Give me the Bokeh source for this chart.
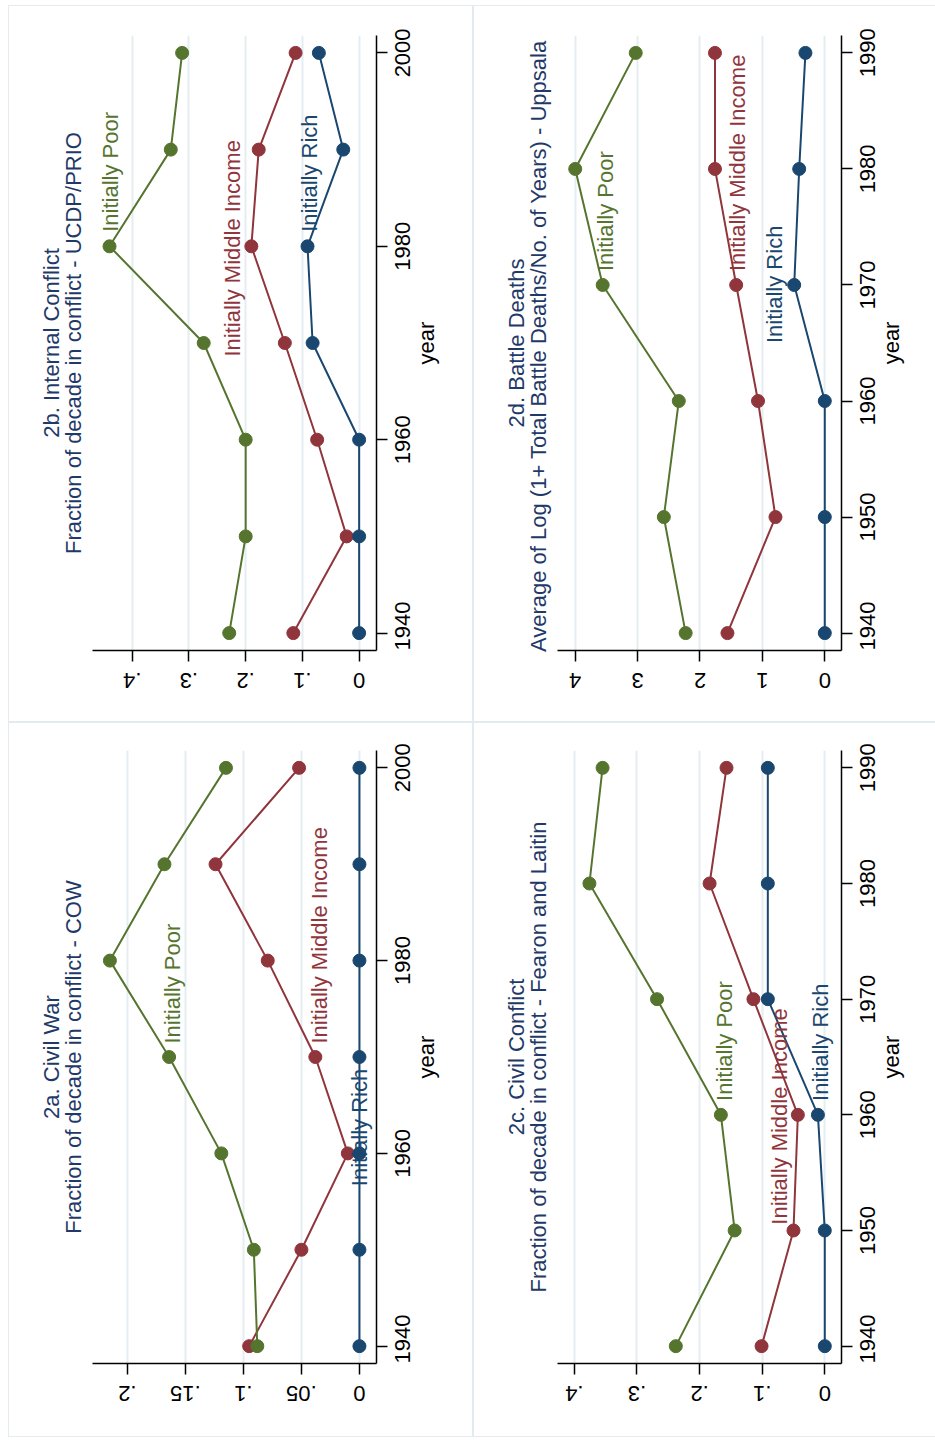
import json
import math

from bokeh.core.properties import value
from bokeh.embed import file_html
from bokeh.layouts import column, row
from bokeh.models import (ColumnDataSource, CustomJSTickFormatter, FixedTicker,
                          LinearAxis, Range1d, Spacer, Title)
from bokeh.plotting import figure
from bokeh.resources import INLINE

# ---------------------------------------------------------------- data
years_2000 = [1940, 1950, 1960, 1970, 1980, 1990, 2000]
years_1990 = [1940, 1950, 1960, 1970, 1980, 1990]
group_names = ["Initially Poor", "Initially Middle Income", "Initially Rich"]

# 2a. Civil War - COW
cow_poor = [0.088, 0.091, 0.119, 0.164, 0.215, 0.168, 0.115]
cow_middle = [0.095, 0.050, 0.010, 0.038, 0.079, 0.124, 0.052]
cow_rich = [0.0, 0.0, 0.0, 0.0, 0.0, 0.0, 0.0]

# 2b. Internal Conflict - UCDP/PRIO
prio_poor = [0.229, 0.200, 0.200, 0.274, 0.440, 0.332, 0.312]
prio_middle = [0.116, 0.022, 0.074, 0.131, 0.190, 0.177, 0.112]
prio_rich = [0.0, 0.0, 0.0, 0.082, 0.091, 0.028, 0.071]

# 2c. Civil Conflict - Fearon and Laitin
fl_poor = [0.238, 0.144, 0.166, 0.268, 0.376, 0.355]
fl_middle = [0.101, 0.050, 0.043, 0.114, 0.184, 0.157]
fl_rich = [0.0, 0.0, 0.011, 0.091, 0.091, 0.091]

# 2d. Battle Deaths - Uppsala
bd_poor = [2.23, 2.58, 2.34, 3.56, 4.00, 3.03]
bd_middle = [1.56, 0.79, 1.07, 1.42, 1.76, 1.76]
bd_rich = [0.0, 0.0, 0.0, 0.49, 0.41, 0.31]

# value-axis ticks and their labels
ticks_05 = [0, 0.05, 0.1, 0.15, 0.2]
labels_05 = ["0", ".05", ".1", ".15", ".2"]
ticks_1 = [0, 0.1, 0.2, 0.3, 0.4]
labels_1 = ["0", ".1", ".2", ".3", ".4"]
ticks_int = [0, 1, 2, 3, 4]
labels_int = ["0", "1", "2", "3", "4"]
# year-axis ticks
year_ticks_20 = [1940, 1960, 1980, 2000]
year_ticks_10 = [1940, 1950, 1960, 1970, 1980, 1990]
year_title = "year"

# ---------------------------------------------------------------- style
FONT = "Liberation Sans"
FS_PX = 22
FS = f"{FS_PX}px"
TITLE_COLOR = "#1f3a68"
GRID_COLOR = "#e4edf0"
EDGE = "#e3ebee"
COLORS = ["#55752f", "#90353b", "#1a476f"]   # poor, middle, rich
DRAW_ORDER = [1, 0, 2]
FRAME_W = 284
FRAME_LEFT = 84

SHADOW_LEFT = f"inset 0 0 0 1px {EDGE}"
SHADOW_RIGHT = f"inset 1px 0 0 0 {EDGE}, inset 0 1px 0 0 {EDGE}, inset 0 -1px 0 0 {EDGE}"

# Liberation Sans advance widths (em) of the glyphs used in axis text
GLYPH_EM = {".": 0.278, "0": 0.556, "1": 0.556, "2": 0.556, "3": 0.556,
            "4": 0.556, "5": 0.556, "6": 0.556, "7": 0.556, "8": 0.556,
            "9": 0.556, "y": 0.5, "e": 0.556, "a": 0.556, "r": 0.333}


def half_width_px(s):
    return 0.5 * sum(GLYPH_EM[c] for c in s) * FS_PX


def lookup_formatter(positions, texts):
    # each label sits on its own tick; pick the text of the nearest one
    return CustomJSTickFormatter(code=f"""
const pos = {json.dumps(positions)};
const txt = {json.dumps(texts)};
let best = 0;
for (let i = 0; i < pos.length; i++) {{
  if (Math.abs(pos[i] - tick) < Math.abs(pos[best] - tick)) best = i;
}}
return txt[best];
""")


def rule_axis(ax, ticks):
    """Axis line and outward ticks, without labels."""
    ax.ticker = FixedTicker(ticks=ticks)
    ax.formatter = CustomJSTickFormatter(code="return '';")
    ax.major_label_text_font_size = "0px"
    ax.major_label_standoff = 0
    ax.major_tick_out = 11
    ax.major_tick_in = 0
    ax.minor_tick_out = 0
    ax.minor_tick_in = 0
    ax.axis_line_width = 1.5
    ax.major_tick_line_width = 1.5
    ax.axis_line_color = "black"
    ax.major_tick_line_color = "black"


def text_axis(positions, texts, angle, standoff):
    """Label-only axis: rotated texts anchored on the given positions."""
    return LinearAxis(ticker=FixedTicker(ticks=positions),
                      formatter=lookup_formatter(positions, texts),
                      major_label_orientation=angle,
                      major_label_standoff=standoff,
                      major_label_text_font=FONT,
                      major_label_text_font_size=FS,
                      major_label_text_color="black",
                      major_tick_out=0, major_tick_in=0,
                      minor_tick_out=0, minor_tick_in=0,
                      axis_line_color=None, major_tick_line_color=None,
                      minor_tick_line_color=None)


def make_panel(head, sub, years, series, label_xy, x_lim, x_ticks, x_labels,
               y_lim, y_ticks, width, height, top, frame_h, shadow):
    p = figure(width=width, height=height,
               x_range=Range1d(*x_lim), y_range=Range1d(*y_lim),
               x_axis_location="below", y_axis_location="right",
               output_backend="svg", toolbar_location=None,
               min_border_left=FRAME_LEFT,
               min_border_right=width - FRAME_LEFT - FRAME_W,
               min_border_top=top, min_border_bottom=height - top - frame_h,
               border_fill_color=None, background_fill_color="white",
               outline_line_color=None, styles={"box-shadow": shadow})

    x_left, x_right = x_lim
    y_bottom, y_top = y_lim
    px_per_x = FRAME_W / (x_left - x_right)
    px_per_y = frame_h / (y_top - y_bottom)

    # value axis along the bottom, grid lines at its ticks
    rule_axis(p.xaxis[0], x_ticks)
    p.xgrid.grid_line_color = GRID_COLOR
    p.xgrid.grid_line_width = 2
    p.ygrid.visible = False

    # year axis along the right side
    rule_axis(p.yaxis[0], y_ticks)

    # upside-down value labels, centred under the ticks
    x_pos = [t + half_width_px(s) / px_per_x for t, s in zip(x_ticks, x_labels)]
    p.add_layout(text_axis(x_pos, x_labels, math.pi, 19), "below")

    # year labels reading upwards, centred on the ticks (kept inside the axis span)
    y_texts = [str(t) for t in y_ticks]
    y_pos = [max(t - half_width_px(s) / px_per_y, y_bottom + 0.01)
             for t, s in zip(y_ticks, y_texts)]
    p.add_layout(text_axis(y_pos, y_texts, math.pi / 2, 15), "right")

    # axis title "year", centred on the plot height
    y_mid = 0.5 * (y_bottom + y_top) - half_width_px(year_title) / px_per_y
    p.add_layout(text_axis([y_mid], [year_title], math.pi / 2, 6), "right")

    for i in DRAW_ORDER:
        src = ColumnDataSource(dict(x=series[i], y=years))
        p.line("x", "y", source=src, line_color=COLORS[i], line_width=2)
        p.scatter("x", "y", source=src, marker="circle", size=13,
                  fill_color=COLORS[i], line_color=COLORS[i])

    for i, name in enumerate(group_names):
        lx, ly = label_xy[i]
        p.text(x=[lx], y=[ly], text=[name], angle=math.pi / 2,
               text_align="left", text_baseline="middle",
               text_color=COLORS[i], text_font=value(FONT),
               text_font_size=value(FS))

    # two-line heading, read upwards, centred on the plot area
    p.add_layout(Title(text=sub, align="center", text_font=FONT,
                       text_font_size=FS, text_font_style="normal",
                       text_color=TITLE_COLOR, standoff=14), "left")
    p.add_layout(Title(text=head, align="center", text_font=FONT,
                       text_font_size=FS, text_font_style="normal",
                       text_color=TITLE_COLOR, standoff=-24), "left")
    return p


p2b = make_panel("2b. Internal Conflict",
                 "Fraction of decade in conflict - UCDP/PRIO",
                 years_2000, [prio_poor, prio_middle, prio_rich],
                 [(0.438, 1981.5), (0.2235, 1968.6), (0.088, 1981.5)],
                 (0.47, -0.0306), ticks_1, labels_1,
                 (1938.2, 2001.8), year_ticks_20,
                 465, 717, 30, 615, SHADOW_LEFT)

p2d = make_panel("2d. Battle Deaths",
                 "Average of Log (1+ Total Battle Deaths/No. of Years)  - Uppsala",
                 years_1990, [bd_poor, bd_middle, bd_rich],
                 [(3.518, 1971.2), (1.403, 1971.2), (0.803, 1965.0)],
                 (4.284, -0.268), ticks_int, labels_int,
                 (1938.5, 1991.5), year_ticks_10,
                 462, 717, 30, 616, SHADOW_RIGHT)

p2a = make_panel("2a. Civil War",
                 "Fraction of decade in conflict - COW",
                 years_2000, [cow_poor, cow_middle, cow_rich],
                 [(0.161, 1971.4), (0.0345, 1971.4), (0.0, 1956.6)],
                 (0.230, -0.0147), ticks_05, labels_05,
                 (1938.2, 2001.8), year_ticks_20,
                 465, 715, 28, 613, SHADOW_LEFT)

p2c = make_panel("2c. Civil Conflict",
                 "Fraction of decade in conflict - Fearon and Laitin",
                 years_1990, [fl_poor, fl_middle, fl_rich],
                 [(0.161, 1961.2), (0.0731, 1950.5), (0.0075, 1961.2)],
                 (0.427, -0.0267), ticks_1, labels_1,
                 (1938.5, 1991.5), year_ticks_10,
                 462, 715, 28, 613, SHADOW_RIGHT)

layout = column(
    Spacer(width=935, height=5),
    row(Spacer(width=8, height=717), p2b, p2d),
    row(Spacer(width=8, height=715), p2a, p2c),
)

open("out.html", "w").write(file_html(layout, INLINE))
